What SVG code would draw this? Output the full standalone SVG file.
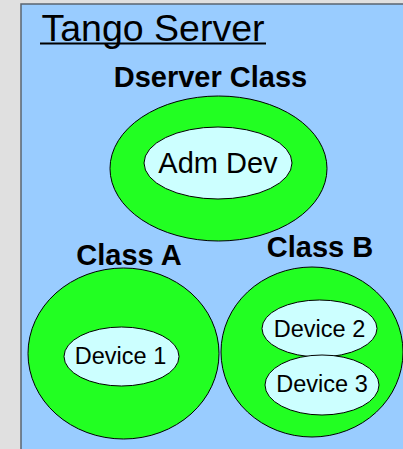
<svg xmlns="http://www.w3.org/2000/svg" width="403" height="449" viewBox="0 0 403 449">
<style>
.cls{fill:#22ff22;stroke:#000;stroke-width:1}
.dev{fill:#ccffff;stroke:#000;stroke-width:1}
.t{font-family:"Liberation Sans",Arial,sans-serif;fill:#000;text-anchor:middle}
.b{font-weight:bold;font-size:29px}
.d{font-size:23.5px}
</style>
<rect x="0" y="0" width="403" height="449" fill="#e0e0e0"/>
<rect x="21" y="4" width="390" height="460" fill="#99ccff" stroke="#5a6470" stroke-width="1.5"/>
<g id="title">
<text class="t" x="153" y="41" font-size="37.5">Tango Server</text>
<line x1="40" y1="43.5" x2="266" y2="43.5" stroke="#000" stroke-width="2"/>
</g>
<g id="dserver">
<text class="t b" x="210.5" y="87">Dserver Class</text>
<ellipse class="cls" cx="218.5" cy="168.5" rx="108.5" ry="72.5"/>
</g>
<g id="admdev">
<ellipse class="dev" cx="218" cy="163" rx="74" ry="36"/>
<text class="t" x="218" y="173" font-size="29">Adm Dev</text>
</g>
<g id="classA">
<text class="t b" x="129" y="265">Class A</text>
<ellipse class="cls" cx="123.5" cy="353.5" rx="95.5" ry="85.5"/>
</g>
<g id="device1">
<ellipse class="dev" cx="121.5" cy="356.5" rx="57.5" ry="29.5"/>
<text class="t d" x="120.5" y="364">Device 1</text>
</g>
<g id="classB">
<text class="t b" x="320" y="257">Class B</text>
<ellipse class="cls" cx="312" cy="352" rx="91" ry="85"/>
</g>
<g id="device2">
<ellipse class="dev" cx="319.5" cy="328.5" rx="57.5" ry="28.5"/>
<text class="t d" x="319.5" y="337">Device 2</text>
</g>
<g id="device3">
<ellipse class="dev" cx="322" cy="385" rx="57" ry="30"/>
<text class="t d" x="322" y="392">Device 3</text>
</g>
<g id="connectors"></g>
</svg>
